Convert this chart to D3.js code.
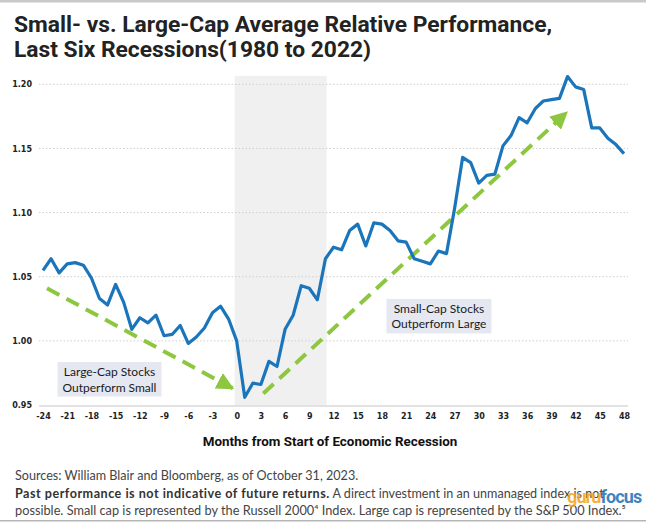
<!DOCTYPE html>
<html><head><meta charset="utf-8">
<script src="https://cdn.jsdelivr.net/npm/d3@7"></script>
<style>html,body{margin:0;padding:0;background:#fff;}svg{display:block;}</style>
</head><body>
<svg id="chart" width="646" height="524"></svg>
<script>
// ---- data ----
const months = d3.range(-24, 49);
const relPerf = [
  1.055, 1.064, 1.053, 1.060, 1.061, 1.059, 1.049, 1.033, 1.028, 1.044,
  1.030, 1.009, 1.018, 1.014, 1.020, 1.004, 1.005, 1.012, 0.998, 1.003,
  1.010, 1.022, 1.027, 1.017, 1.000,
  0.956, 0.967, 0.966, 0.984, 0.980, 1.009, 1.020, 1.043, 1.041, 1.032,
  1.064, 1.073, 1.071, 1.086, 1.091, 1.074, 1.092, 1.091, 1.086, 1.078,
  1.077, 1.064, 1.062, 1.060, 1.070, 1.068, 1.103, 1.143, 1.139, 1.123,
  1.129, 1.130, 1.152, 1.160, 1.174, 1.170, 1.181, 1.187, 1.188, 1.189,
  1.206, 1.198, 1.196, 1.166, 1.166, 1.158, 1.153, 1.146
];
const yTicks = [0.95, 1.00, 1.05, 1.10, 1.15, 1.20];
const xTicks = d3.range(-24, 49, 3);
const recession = [-0.25, 11.15];
const arrows = [
  {from: [-23.5, 1.041], to: [-0.5, 0.963]},
  {from: [3.3, 0.959], to: [40.9, 1.178]}
];
const notes = [
  {lines: ["Large-Cap Stocks", "Outperform Small"], at: [-15.76, 0.9757]},
  {lines: ["Small-Cap Stocks", "Outperform Large"], at: [25.07, 1.0249]}
];
const titleLines = ["Small- vs. Large-Cap Average Relative Performance,", "Last Six Recessions(1980 to 2022)"];
const xTitle = "Months from Start of Economic Recession";

// ---- drawing ----
const svg = d3.select("#chart");
const x = d3.scaleLinear().domain([-24, 48]).range([43, 624]);
const y = d3.scaleLinear().domain([0.95, 1.20]).range([405, 84.3]);

svg.append("rect").attr("x", 0).attr("y", 0).attr("width", 646).attr("height", 2.5).attr("fill", "#c9c9c9");
svg.append("rect").attr("x", 0).attr("y", 520).attr("width", 646).attr("height", 1.5).attr("fill", "#b5b5b5");

const title = svg.append("text").attr("x", 15).attr("font-family", "Roboto, sans-serif")
  .attr("font-weight", "bold").attr("font-size", 22.8).attr("fill", "#222");
titleLines.forEach((t, i) => title.append("tspan").attr("x", 14).attr("y", 32 + i * 25).text(t));

// recession band
svg.append("rect").attr("x", x(recession[0])).attr("width", x(recession[1]) - x(recession[0]))
  .attr("y", y(1.2066)).attr("height", y(0.95) - y(1.2066)).attr("fill", "#f0f0f0");

// grid
svg.append("g").selectAll("line").data(yTicks.filter(d => d > 0.95)).join("line")
  .attr("x1", 39).attr("x2", 628).attr("y1", d => y(d)).attr("y2", d => y(d))
  .attr("stroke", "#cfcfcf").attr("stroke-width", 1).attr("stroke-dasharray", "1.5,2");
svg.append("line").attr("x1", 39).attr("x2", 628).attr("y1", y(0.95) + 1).attr("y2", y(0.95) + 1)
  .attr("stroke", "#e2e2e2").attr("stroke-width", 2);

// y axis labels
const yAxis = d3.axisLeft(y).tickValues(yTicks).tickFormat(d3.format(".2f")).tickSize(0).tickPadding(0);
const gy = svg.append("g").attr("transform", "translate(32,0)").call(yAxis);
gy.select(".domain").remove();
gy.selectAll("text").attr("font-family", "DejaVu Sans, sans-serif").attr("font-size", 8).attr("font-weight", "bold").attr("fill", "#222");

// x axis labels
const xAxis = d3.axisBottom(x).tickValues(xTicks).tickFormat(d => String(d)).tickSize(0).tickPadding(0);
const gx = svg.append("g").attr("transform", "translate(0,413)").call(xAxis);
gx.select(".domain").remove();
gx.selectAll("text").attr("font-family", "DejaVu Sans, sans-serif").attr("font-size", 8).attr("fill", "#222").attr("font-weight", "bold");

svg.append("text").attr("x", 330).attr("y", 446).attr("text-anchor", "middle")
  .attr("font-family", "Roboto, sans-serif").attr("font-weight", "bold").attr("font-size", 13.4)
  .attr("fill", "#111").text(xTitle);

// arrows
const defs = svg.append("defs");
defs.append("marker").attr("id", "ah").attr("viewBox", "0 0 10 10").attr("refX", 9).attr("refY", 5)
  .attr("markerWidth", 4.4).attr("markerHeight", 4.4).attr("orient", "auto").attr("markerUnits", "strokeWidth")
  .append("path").attr("d", "M0,0 L10,5 L0,10 Z").attr("fill", "#8dc63f");
svg.append("g").selectAll("line").data(arrows).join("line")
  .attr("x1", d => x(d.from[0])).attr("y1", d => y(d.from[1]))
  .attr("x2", d => x(d.to[0])).attr("y2", d => y(d.to[1]))
  .attr("stroke", "#8dc63f").attr("stroke-width", 4).attr("stroke-dasharray", "14,8")
  .attr("marker-end", "url(#ah)");

// line
svg.append("path").datum(months.map((m, i) => [m, relPerf[i]]))
  .attr("fill", "none").attr("stroke", "#1b75bb").attr("stroke-width", 3.2).attr("stroke-linejoin", "round")
  .attr("d", d3.line().x(d => x(d[0])).y(d => y(d[1])));

// notes
notes.forEach(n => {
  const cx = x(n.at[0]), cy = y(n.at[1]);
  const g = svg.append("g");
  const r = g.append("rect").attr("fill", "#e5e7f1");
  const t = g.append("text").attr("font-family", "Lato, sans-serif").attr("font-size", 12).attr("fill", "#1a1a1a").attr("text-anchor", "middle");
  n.lines.forEach((l, i) => t.append("tspan").attr("x", cx).attr("y", cy + 4 + i * 15.5).text(l));
  const bb = t.node().getBBox();
  r.attr("x", bb.x - 5).attr("y", bb.y - 2).attr("width", bb.width + 10).attr("height", bb.height + 4);
});

// footer
const ff = "Lato, sans-serif";
svg.append("text").attr("x", 15).attr("y", 480).attr("font-family", ff).attr("font-size", 12.6).attr("fill", "#444")
  .text("Sources: William Blair and Bloomberg, as of October 31, 2023.");
const f2 = svg.append("text").attr("x", 15).attr("y", 498).attr("font-family", ff).attr("font-size", 12.6).attr("fill", "#444");
f2.append("tspan").attr("font-weight", "bold").attr("fill", "#333").attr("letter-spacing", 0.5).text("Past performance is not indicative of future returns.");
f2.append("tspan").attr("letter-spacing", 0).text(" A direct investment in an unmanaged index is not");
svg.append("text").attr("x", 15).attr("y", 515).attr("font-family", ff).attr("font-size", 12.75).attr("fill", "#444")
  .text("possible. Small cap is represented by the Russell 2000\u2074 Index. Large cap is represented by the S&P 500 Index.\u2075");

// watermark
const wm = svg.append("text").attr("x", 567).attr("y", 503).attr("font-family", "Roboto, sans-serif")
  .attr("font-weight", "bold").attr("font-size", 18).attr("opacity", 0.85).attr("letter-spacing", -0.9);
wm.append("tspan").attr("fill", "#f2a51c").text("guru");
wm.append("tspan").attr("fill", "#1c6fb5").text("focus");
</script>
</body></html>
